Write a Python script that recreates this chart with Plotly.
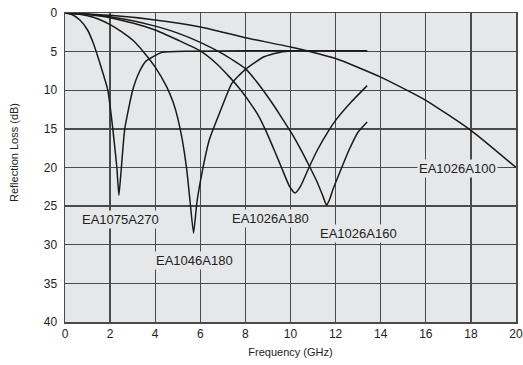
import plotly.graph_objects as go

# ---- data (Frequency GHz, Reflection Loss dB) ----
ea1075a270_x = [0, 0.3, 0.66, 1.0, 1.24, 1.6, 1.9, 2.12, 2.3, 2.39, 2.5, 2.65, 3.0, 3.3, 3.6, 4.3, 5.5, 8.0, 13.4]
ea1075a270_y = [0, 0.2, 0.9, 2.2, 3.8, 7.0, 10.0, 15.0, 20.0, 23.6, 20.0, 15.0, 10.0, 7.6, 6.2, 5.1, 4.95, 4.9, 4.9]

ea1046a180_x = [0, 0.5, 1.0, 1.5, 2.0, 2.5, 3.0, 3.5, 4.0, 4.5, 4.8, 5.0, 5.2, 5.4, 5.55, 5.7, 5.85, 6.1, 6.4, 6.9, 7.4, 8.0, 8.8, 9.5, 10.2, 13.4]
ea1046a180_y = [0, 0.1, 0.35, 0.8, 1.5, 2.4, 3.5, 5.1, 7.0, 9.5, 11.6, 13.6, 16.4, 20.3, 24.5, 28.5, 24.5, 20.3, 16.4, 12.6, 9.1, 7.3, 5.7, 5.1, 4.9, 4.9]

ea1026a180_x = [0, 1, 2, 3, 4, 5, 6, 6.7, 7.3, 7.8, 8.2, 8.6, 8.9, 9.3, 9.6, 9.95, 10.2, 10.45, 10.85, 11.2, 11.7, 12.0, 12.7, 13.4]
ea1026a180_y = [0, 0.2, 0.6, 1.3, 2.2, 3.5, 4.9, 6.5, 8.3, 10.0, 11.6, 13.4, 15.2, 17.9, 20.0, 22.4, 23.3, 22.4, 19.8, 17.7, 15.2, 13.9, 11.5, 9.4]

ea1026a160_x = [0, 1, 2, 3, 4, 5, 6, 7, 8, 8.5, 9.1, 9.6, 10.1, 10.5, 10.85, 11.2, 11.45, 11.6, 11.75, 11.9, 12.3, 12.6, 13.0, 13.4]
ea1026a160_y = [0, 0.15, 0.5, 1.0, 1.7, 2.6, 3.8, 5.3, 7.2, 8.9, 11.3, 13.5, 15.8, 17.9, 19.9, 22.0, 23.8, 24.9, 24.0, 22.7, 19.8, 17.7, 15.4, 14.1]

ea1026a100_x = [0, 2, 4, 6, 8, 10, 12, 14, 16, 18, 20]
ea1026a100_y = [0, 0.3, 0.9, 1.8, 3.2, 4.4, 5.9, 8.3, 11.3, 15.2, 20.0]

series = [
    ("EA1075A270", ea1075a270_x, ea1075a270_y),
    ("EA1046A180", ea1046a180_x, ea1046a180_y),
    ("EA1026A180", ea1026a180_x, ea1026a180_y),
    ("EA1026A160", ea1026a160_x, ea1026a160_y),
    ("EA1026A100", ea1026a100_x, ea1026a100_y),
]

# label anchor positions (data coords)
label_names = ["EA1075A270", "EA1046A180", "EA1026A180", "EA1026A160", "EA1026A100"]
label_x = [2.45, 5.75, 9.1, 13.0, 17.4]
label_y = [26.7, 32.1, 26.6, 28.5, 20.1]

x_ticks = [0, 2, 4, 6, 8, 10, 12, 14, 16, 18, 20]
y_ticks = [0, 5, 10, 15, 20, 25, 30, 35, 40]

FONT = "Liberation Sans, Arial, sans-serif"
BG = "#e6e7e8"
GRID = "#4a4a4a"

fig = go.Figure()
for name, xs, ys in series:
    fig.add_trace(go.Scatter(
        x=xs, y=ys, mode="lines", name=name,
        line=dict(color="#1a1a1a", width=1.5, shape="spline", smoothing=0.5),
        showlegend=False, hoverinfo="skip",
    ))

for t, lx, ly in zip(label_names, label_x, label_y):
    fig.add_annotation(
        x=lx, y=ly, text=t, showarrow=False,
        font=dict(family=FONT, size=13, color="#222"),
        bgcolor=BG, borderpad=1, xanchor="center", yanchor="middle",
    )

fig.add_annotation(
    xref="paper", yref="paper", x=-0.113, y=0.547,
    text="Reflection Loss (dB)", textangle=-90, showarrow=False,
    font=dict(family=FONT, size=11, color="#222"),
    xanchor="center", yanchor="middle",
)

fig.update_layout(
    width=523, height=365,
    margin=dict(l=65, r=7, t=13, b=43),
    paper_bgcolor="white", plot_bgcolor=BG,
    font=dict(family=FONT, size=12, color="#222"),
    xaxis=dict(
        range=[0, 20], tickvals=x_ticks, ticktext=[str(v) for v in x_ticks],
        showgrid=True, gridcolor=GRID, gridwidth=1.4, zeroline=False,
        showline=True, linecolor=GRID, linewidth=1.5, mirror=True,
        ticks="", ticklabelstandoff=0, automargin=False,
        title=dict(text="Frequency (GHz)", font=dict(size=11), standoff=8),
        tickfont=dict(size=12),
    ),
    yaxis=dict(
        range=[40, 0], tickvals=y_ticks, ticktext=[str(v) for v in y_ticks],
        showgrid=True, gridcolor=GRID, gridwidth=1.4, zeroline=False,
        showline=True, linecolor=GRID, linewidth=1.5, mirror=True,
        ticks="", ticklabelstandoff=4, automargin=False,
        tickfont=dict(size=12),
    ),
)

fig.write_html(
    "out.html",
    config={"displayModeBar": False, "staticPlot": True},
    post_script="document.body.style.margin='0px';document.body.style.overflow='hidden';",
)
